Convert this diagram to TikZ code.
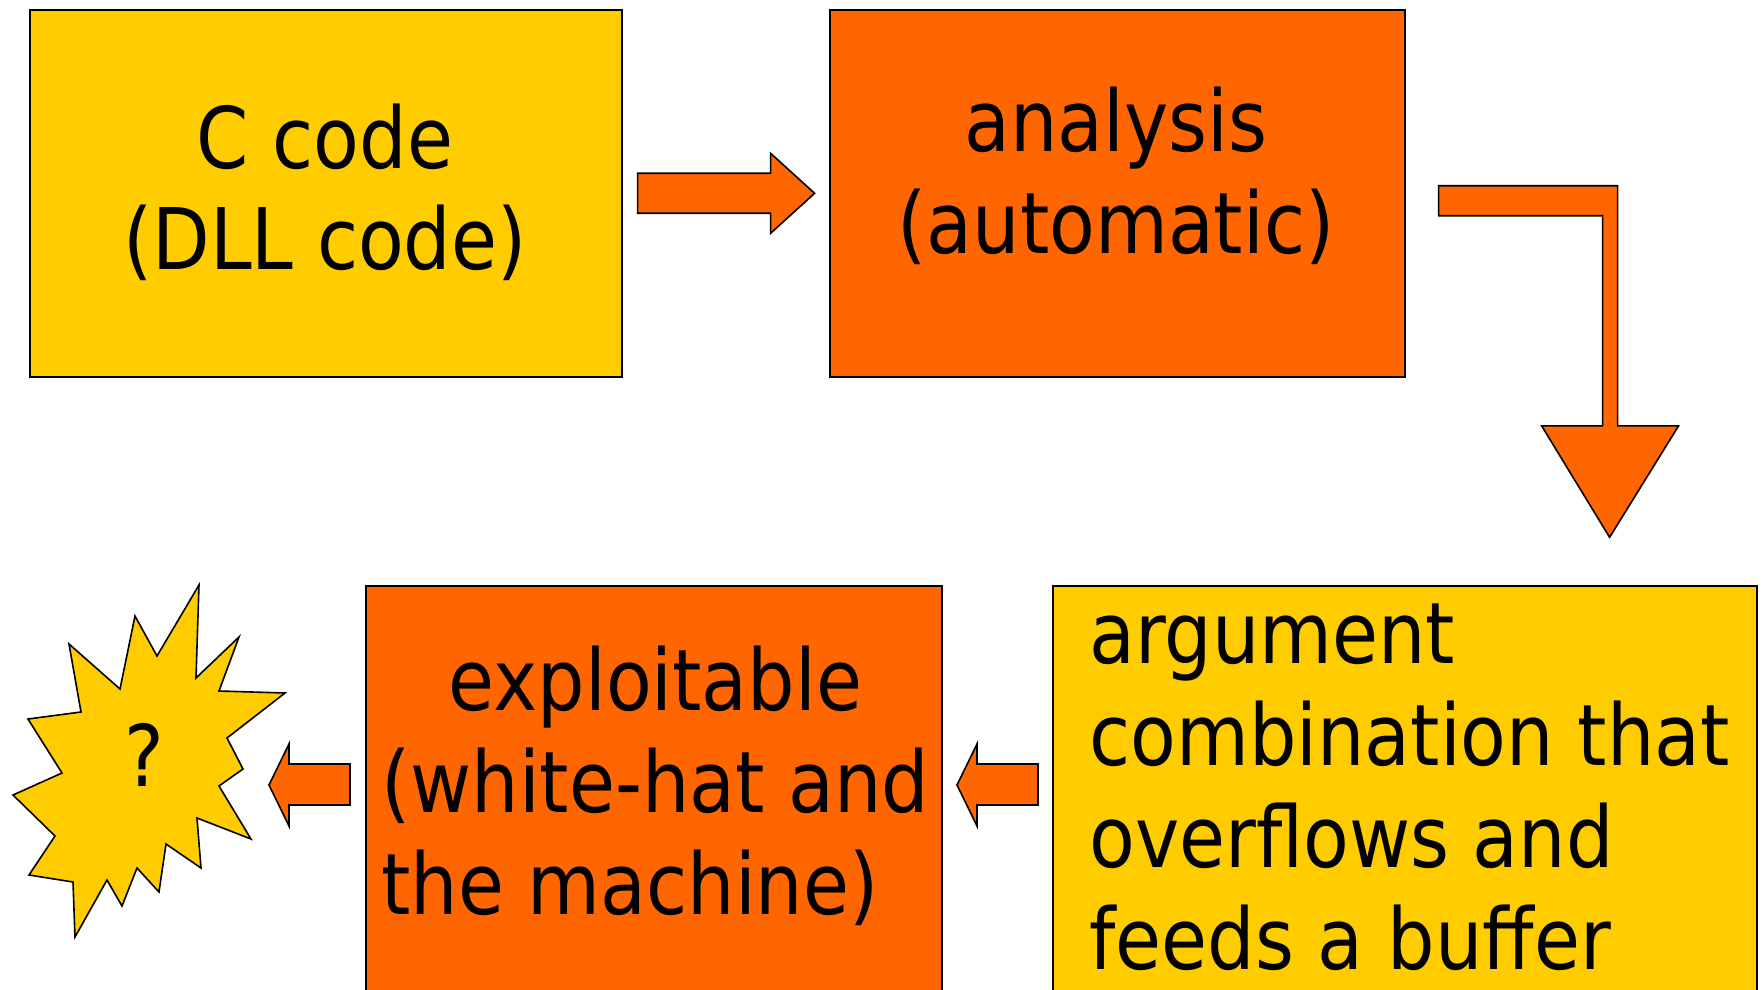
\documentclass[tikz,border=0pt]{standalone}
\usepackage{fontspec}
\setmainfont{DejaVu Sans}[FakeStretch=0.88]
\usepackage{tikz}
\definecolor{slideyellow}{HTML}{FFCC00}
\definecolor{slideorange}{HTML}{FF6600}

\begin{document}
\begin{tikzpicture}[
        x=0.5pt, y=-0.5pt,
        every node/.style={font=\fontsize{42.5}{51}\selectfont},
        block/.style={
            draw=black,
            line width=0.8pt,
            rectangle,
            anchor=north west,
            inner sep=0pt
        },
        yellowbox/.style={block, fill=slideyellow},
        orangebox/.style={block, fill=slideorange},
        boxtext/.style={inner sep=0pt, anchor=base},
        blockarrow/.style={draw=black, line width=0.8pt, fill=slideorange, line join=miter},
        burst/.style={draw=black, line width=0.8pt, fill=slideyellow, line join=miter}
    ]
        \useasboundingbox (0,0) rectangle (1763,990);
        \clip (0,0) rectangle (1763,990);

        % Boxes
        \node[yellowbox, minimum width=296pt, minimum height=183.5pt] (ccode) at (29,9) {};
        \node[orangebox, minimum width=287.5pt, minimum height=183.5pt] (analysis) at (829,9) {};
        \node[yellowbox, minimum width=352pt, minimum height=260pt] (argument) at (1052,585) {};
        \node[orangebox, minimum width=288pt, minimum height=260pt] (exploit) at (365,585) {};

        % Box texts (base = last line)
        \node[boxtext, align=center] (ccodetext) at (325,270) {C code\\(DLL code)};
        \node[boxtext, align=center] (analysistext) at (1116,253) {analysis\\(automatic)};
        \node[boxtext, anchor=base west, align=left] (argumenttext) at (1089,969)
            {argument\\combination that\\overflows and\\feeds a buffer};
        \node[boxtext, anchor=base west] (exploittext) at (381,710)
            {\begin{tabular}[t]{@{}l@{}}\multicolumn{1}{@{}c@{}}{exploitable}\\(white-hat and\\the machine)\end{tabular}};

        % Block arrows
        \draw[blockarrow, shift={(ccode.east)}] (15,-20) -- (148,-20) -- (148,-40) -- (192,0)
            -- (148,40) -- (148,20) -- (15,20) -- cycle;
        \draw[blockarrow, shift={(analysis.east)}] (33,-7.5) -- (212,-7.5) -- (212,232.5) -- (273,232.5)
            -- (204,344) -- (136,232.5) -- (197,232.5) -- (197,22.5) -- (33,22.5) -- cycle;
        \draw[blockarrow, shift={(argument.north west)}] (-14,179) -- (-75,179) -- (-75,159) -- (-95,200)
            -- (-75,241) -- (-75,220) -- (-14,220) -- cycle;
        \draw[blockarrow, shift={(exploit.north west)}] (-15,179) -- (-76,179) -- (-76,159) -- (-96,200)
            -- (-76,241) -- (-76,220) -- (-15,220) -- cycle;

        % Burst
        \draw[burst] (199,585) -- (196,678) -- (239,637) -- (219,691) -- (285,693) -- (227,738)
            -- (243,769) -- (219,786) -- (251,839) -- (197,818) -- (201,868) -- (166,844)
            -- (159,892) -- (137,868) -- (122,906) -- (107,880) -- (75,937) -- (73,882)
            -- (29,875) -- (55,836) -- (13,795) -- (62,773) -- (28,719) -- (81,712)
            -- (69,644) -- (120,689) -- (135,616) -- (157,656) -- cycle;
        \node[inner sep=0pt] (question) at (144,755) {?};

    \end{tikzpicture}
\end{document}
